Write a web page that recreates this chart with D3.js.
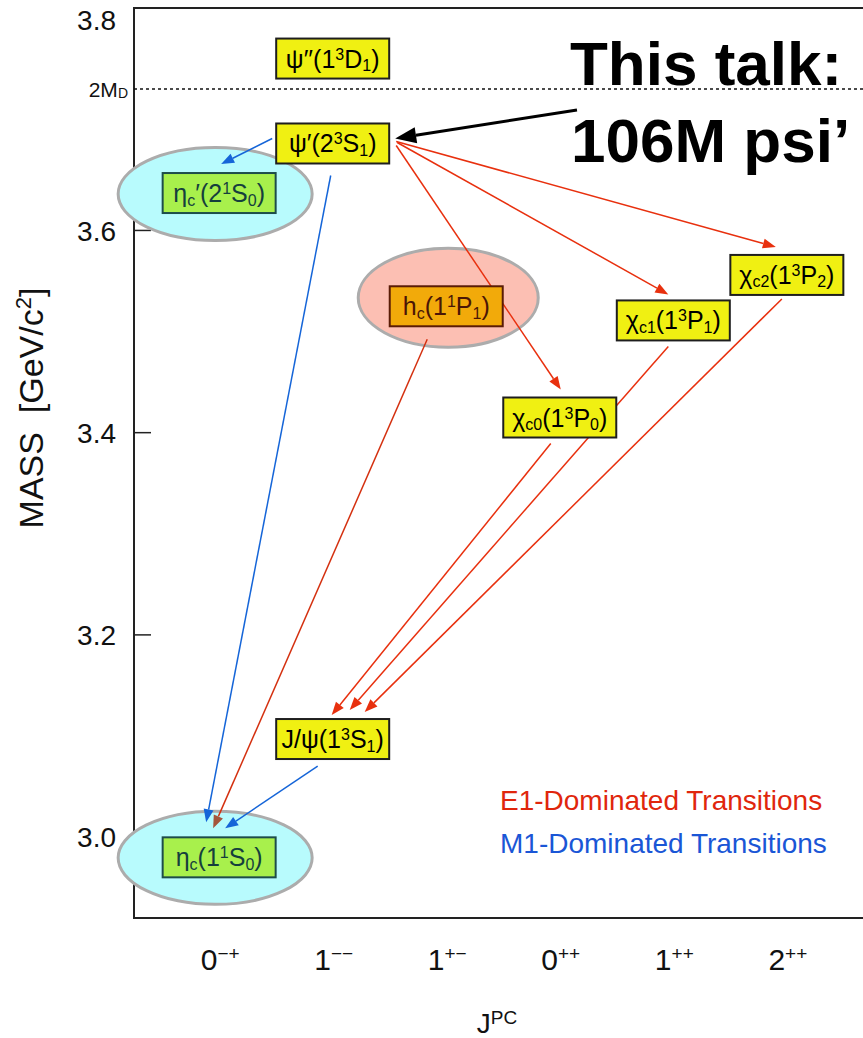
<!DOCTYPE html>
<html>
<head>
<meta charset="utf-8">
<script src="https://cdn.jsdelivr.net/npm/d3@7"></script>
<style>
  html, body { margin: 0; padding: 0; background: #fff; }
  svg { display: block; font-family: "Liberation Sans", Arial, Helvetica, sans-serif; }
</style>
</head>
<body>
<svg id="chart" width="863" height="1038"></svg>
<script>
// J^PC columns along the horizontal axis
const jpcCategories = ["0-+", "1--", "1+-", "0++", "1++", "2++"];

// Mass axis
const yTickValues = [3.0, 3.2, 3.4, 3.6, 3.8];
const massDomain = [2.92, 3.82];
const openCharmThreshold = 3.74;   // 2M_D line

// Charmonium states
const stateIds    = ["psi3770", "psi2S", "etac2S", "hc", "chic2", "chic1", "chic0", "jpsi", "etac"];
const stateLabels = ["ψ′′(1^3D_1)", "ψ′(2^3S_1)", "η_c′(2^1S_0)", "h_c(1^1P_1)",
                     "χ_{c2}(1^3P_2)", "χ_{c1}(1^3P_1)", "χ_{c0}(1^3P_0)", "J/ψ(1^3S_1)", "η_c(1^1S_0)"];
const stateJPC    = ["1--", "1--", "0-+", "1+-", "2++", "1++", "0++", "1--", "0-+"];
const stateMass   = [3.770, 3.686, 3.637, 3.525, 3.556, 3.511, 3.415, 3.097, 2.980];
const stateKind   = ["triplet", "triplet", "singletS", "singletP", "triplet", "triplet", "triplet", "triplet", "singletS"];
const highlighted = ["etac2S", "hc", "etac"];

// Radiative transitions
const transFrom = ["psi2S", "psi2S", "psi2S", "psi2S", "psi2S", "hc",   "chic0", "chic1", "chic2", "jpsi"];
const transTo   = ["etac2S", "etac", "chic2", "chic1", "chic0", "etac", "jpsi",  "jpsi",  "jpsi",  "etac"];
const transType = ["M1",    "M1",   "E1",    "E1",    "E1",    "E1",   "E1",    "E1",    "E1",    "M1"];

// Legend entries
const legendLabels = ["E1-Dominated Transitions", "M1-Dominated Transitions"];
const legendTypes  = ["E1", "M1"];

// ---------------------------------------------------------------------------
const svg = d3.select("#chart");
const frame = { left: 134, right: 872, top: 8, bottom: 918 };

const x = d3.scalePoint().domain(jpcCategories).range([frame.left, frame.right]).padding(0.75);
const y = d3.scaleLinear().domain(massDomain).range([frame.bottom, frame.top]);

const boxW = 113, boxH = 40;
const typeColor = { E1: "#e8300e", M1: "#1565d8" };
const legendColor = { E1: "#e0260c", M1: "#1a56d6" };
const kindStyle = {
  triplet:  { fill: "#f0f012", stroke: "#1e1e1e", text: "#000" },
  singletS: { fill: "#a8f04c", stroke: "#1d4d4a", text: "#153f3d" },
  singletP: { fill: "#f2aa0a", stroke: "#5a1c06", text: "#4a1606" }
};
const ellipseStyle = {
  etac2S: { fill: "#b8fbfd", rx: 97, ry: 46.5, dx: -4, dy: 1 },
  etac:   { fill: "#b8fbfd", rx: 97, ry: 46.5, dx: -4, dy: 0.5 },
  hc:     { fill: "#fcbfb3", rx: 90, ry: 49.5, dx: 2,  dy: -8.5 }
};

const states = stateIds.map((id, i) => ({
  id, label: stateLabels[i], jpc: stateJPC[i], mass: stateMass[i], kind: stateKind[i],
  cx: x(stateJPC[i]), cy: y(stateMass[i])
}));
const byId = Object.fromEntries(states.map(s => [s.id, s]));

// where each arrow leaves its source box and meets its target box
const ports = {
  "psi2S>etac2S": { from: ["left", -5, 4],    to: [2, 9] },
  "psi2S>etac":   { from: ["bottom", -2, 12], to: [-13, 15] },
  "psi2S>chic2":  { from: ["right", -2, 7],   to: [-11, 8] },
  "psi2S>chic1":  { from: ["right", -1, 8],   to: [-5, 6] },
  "psi2S>chic0":  { from: ["right", 2, 7],    to: [1, 8] },
  "hc>etac":      { from: ["bottom", -19, 13],to: [-6, 9] },
  "chic0>jpsi":   { from: ["bottom", -9, 6],  to: [-1, 4] },
  "chic1>jpsi":   { from: ["bottom", -5, 6],  to: [17, 9] },
  "chic2>jpsi":   { from: ["bottom", -5, 4],  to: [32, 7] },
  "jpsi>etac":    { from: ["bottom", -15, 7], to: [6, 9] }
};

function sourcePoint(s, side, shift, gap) {
  if (side === "right")  return [s.cx + boxW / 2 + gap, s.cy + shift];
  if (side === "left")   return [s.cx - boxW / 2 - gap, s.cy + shift];
  return [s.cx + shift, s.cy + boxH / 2 + gap];
}
function targetPoint(s, shift, gap) {
  return [s.cx + shift, s.cy - boxH / 2 - gap];
}

// label markup: ^x / ^{..} superscript, _x / _{..} subscript
function parseLabel(str) {
  const segs = [];
  let buf = "";
  for (let i = 0; i < str.length; i++) {
    const c = str[i];
    if (c === "^" || c === "_") {
      if (buf) { segs.push({ t: buf, m: "" }); buf = ""; }
      let t;
      if (str[i + 1] === "{") {
        const j = str.indexOf("}", i + 2);
        t = str.slice(i + 2, j); i = j;
      } else { t = str[i + 1]; i += 1; }
      segs.push({ t, m: c === "^" ? "sup" : "sub" });
    } else buf += c;
  }
  if (buf) segs.push({ t: buf, m: "" });
  return segs;
}

function richText(sel, str, opts) {
  const segs = parseLabel(str);
  let cur = 0;
  segs.forEach(seg => {
    const target = seg.m === "sup" ? opts.supShift : seg.m === "sub" ? opts.subShift : 0;
    sel.append("tspan")
      .attr("dy", target - cur)
      .attr("font-size", seg.m ? opts.small : opts.size)
      .text(seg.t);
    cur = target;
  });
}

function arrowHead(x1, y1, x2, y2, len, hw) {
  const d = Math.hypot(x2 - x1, y2 - y1);
  const ux = (x2 - x1) / d, uy = (y2 - y1) / d;
  const bx = x2 - ux * len, by = y2 - uy * len;
  return { base: [bx, by], pts: [[x2, y2], [bx - uy * hw, by + ux * hw], [bx + uy * hw, by - ux * hw]] };
}

// ---------------------------------------------------------------------------
// frame
svg.append("path")
  .attr("d", `M${frame.right},${frame.top}H${frame.left}V${frame.bottom}H${frame.right}`)
  .attr("fill", "none").attr("stroke", "#222").attr("stroke-width", 2);

// y ticks and labels
const yMax = d3.max(yTickValues);
yTickValues.forEach(v => {
  const yy = y(v);
  if (v < yMax) {
    svg.append("line").attr("x1", frame.left).attr("x2", frame.left + 17)
      .attr("y1", yy).attr("y2", yy).attr("stroke", "#222").attr("stroke-width", 1.5);
  }
  svg.append("text")
    .attr("x", 116).attr("y", yy + (v === yMax ? -8 : 0)).attr("dy", "0.36em")
    .attr("text-anchor", "end").attr("font-size", 28).attr("fill", "#111")
    .text(v.toFixed(1));
});

// open-charm threshold
svg.append("line")
  .attr("x1", frame.left).attr("x2", frame.right)
  .attr("y1", y(openCharmThreshold)).attr("y2", y(openCharmThreshold))
  .attr("stroke", "#111").attr("stroke-width", 1.5).attr("stroke-dasharray", "3,3");
const thr = svg.append("text").attr("x", 128).attr("y", y(openCharmThreshold) + 8)
  .attr("text-anchor", "end").attr("fill", "#111");
richText(thr, "2M_D", { size: 21, small: 14, supShift: -7, subShift: 1 });

// x tick labels
jpcCategories.forEach(c => {
  const t = svg.append("text").attr("x", x(c) + 1).attr("y", 970)
    .attr("text-anchor", "middle").attr("fill", "#111");
  richText(t, c[0] + "^{" + c.slice(1).replace(/-/g, "−") + "}",
    { size: 30, small: 19, supShift: -10, subShift: 0 });
});

// axis titles
const xt = svg.append("text").attr("x", 497).attr("y", 1033)
  .attr("text-anchor", "middle").attr("fill", "#111");
richText(xt, "J^{PC}", { size: 28, small: 19, supShift: -9, subShift: 0 });

const yt = svg.append("text")
  .attr("transform", `translate(43,408) rotate(-90)`)
  .attr("text-anchor", "middle").attr("fill", "#111").style("white-space", "pre");
richText(yt, "MASS  [GeV/c^2]", { size: 34, small: 22, supShift: -12, subShift: 0 });

// highlight ellipses
highlighted.forEach(id => {
  const s = byId[id], e = ellipseStyle[id];
  svg.append("ellipse")
    .attr("cx", s.cx + e.dx).attr("cy", s.cy + e.dy).attr("rx", e.rx).attr("ry", e.ry)
    .attr("fill", e.fill).attr("stroke", "#acacac").attr("stroke-width", 3);
});

// transitions
transFrom.forEach((f, i) => {
  const key = f + ">" + transTo[i];
  const p = ports[key];
  const src = byId[f], dst = byId[transTo[i]];
  const [x1, y1] = sourcePoint(src, p.from[0], p.from[1], p.from[2]);
  const [x2, y2] = targetPoint(dst, p.to[0], p.to[1]);
  const col = typeColor[transType[i]];
  const h = arrowHead(x1, y1, x2, y2, 13, 5);
  svg.append("line").attr("x1", x1).attr("y1", y1).attr("x2", h.base[0]).attr("y2", h.base[1])
    .attr("stroke", key === "hc>etac" ? "#d4300f" : col).attr("stroke-width", 1.5);
  svg.append("polygon").attr("points", h.pts.map(q => q.join(",")).join(" "))
    .attr("fill", key === "hc>etac" ? "#a3563c" : col);
});

// state boxes
states.forEach(s => {
  const st = kindStyle[s.kind];
  svg.append("rect")
    .attr("x", s.cx - boxW / 2).attr("y", s.cy - boxH / 2).attr("width", boxW).attr("height", boxH)
    .attr("fill", st.fill).attr("stroke", st.stroke).attr("stroke-width", 2);
  const t = svg.append("text").attr("x", s.cx).attr("y", s.cy + 9)
    .attr("text-anchor", "middle").attr("fill", st.text);
  richText(t, s.label, { size: 25, small: 16, supShift: -8, subShift: 3.5 });
});

// annotation
const note = svg.append("g").attr("font-weight", "bold").attr("font-size", 62).attr("fill", "#000");
note.append("text").attr("x", 570).attr("y", 85).text("This talk:");
note.append("text").attr("x", 571).attr("y", 162).text("106M psi’");

const ps = byId.psi2S;
const ax1 = 577, ay1 = 110;
const ax2 = ps.cx + boxW / 2 + 6, ay2 = ps.cy - 5;
const bh = arrowHead(ax1, ay1, ax2, ay2, 21, 8);
svg.append("line").attr("x1", ax1).attr("y1", ay1).attr("x2", bh.base[0]).attr("y2", bh.base[1])
  .attr("stroke", "#000").attr("stroke-width", 3);
svg.append("polygon").attr("points", bh.pts.map(q => q.join(",")).join(" ")).attr("fill", "#000");

// legend
legendLabels.forEach((l, i) => {
  svg.append("text").attr("x", 500).attr("y", 810 + i * 43)
    .attr("font-size", 28).attr("fill", legendColor[legendTypes[i]]).text(l);
});
</script>
</body>
</html>
